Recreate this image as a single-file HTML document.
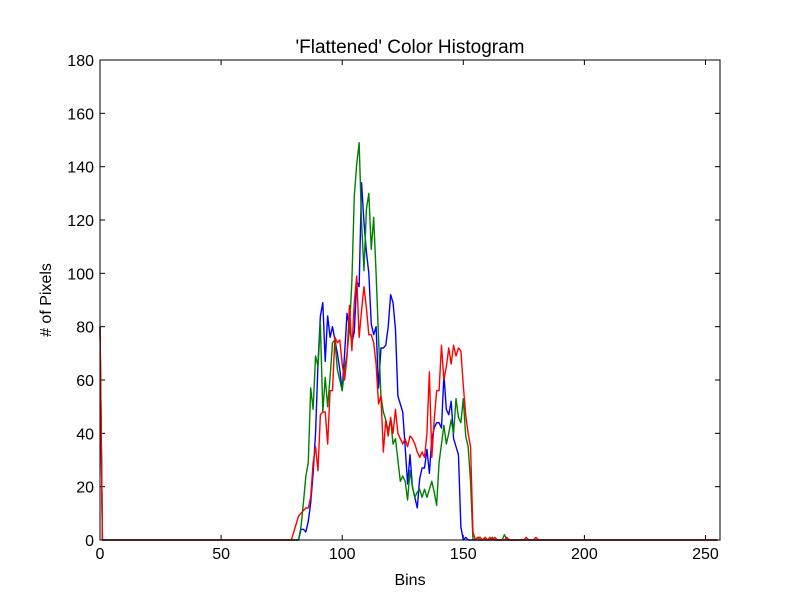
<!DOCTYPE html>
<html><head><meta charset="utf-8"><style>
body{margin:0;background:#fff;}
svg text{font-family:"Liberation Sans","DejaVu Sans",sans-serif;fill:#000;}
</style></head><body>
<svg id="chart" width="800" height="600" viewBox="0 0 800 600" xmlns="http://www.w3.org/2000/svg">
<rect width="800" height="600" fill="#fff"/>
<text x="410" y="53" font-size="19" text-anchor="middle">'Flattened' Color Histogram</text>
<text x="410" y="585" font-size="16" text-anchor="middle">Bins</text>
<text transform="translate(51,300) rotate(-90)" font-size="16" text-anchor="middle"># of Pixels</text>
<g id="ticks"></g>
<g id="series"></g>
<rect x="100" y="60" width="620" height="480" fill="none" stroke="#000" stroke-width="1"/>
</svg>
<script>
const xTicks=[0,50,100,150,200,250];
const yTicks=[0,20,40,60,80,100,120,140,160,180];
const segStart=78;
const spikeBin0=80;
const blueSeg=[0,0,0,0,0,4,4,3,7,14,25,40,66,84,89,67,84,76,80,75,70,64,56,70,85,80,74,78,97,95,134,119,108,100,81,77,80,57,72,72,73,80,92,89,79,54,51,48,35,21,32,20,16,12,23,27,27,34,25,38,42,44,44,42,62,49,47,52,38,35,32,5,0,1,0];
const greenSeg=[0,0,0,0,0,5,14,24,29,57,49,69,65,81,48,61,50,61,74,75,64,60,56,64,70,79,97,129,141,149,119,101,124,130,109,121,100,76,54,48,45,41,45,36,38,30,22,24,22,15,26,20,16,18,19,16,19,16,19,22,18,13,29,36,43,36,40,45,40,53,46,44,53,39,35,22,0,0,1,0,0,1,0,0,1,0,0,0,0,2,0];
const redSeg=[0,0,3,6,9,10,11,12,12,16,29,35,26,47,48,48,36,56,56,76,74,75,66,60,69,88,71,89,99,76,86,95,87,77,77,74,66,51,54,33,45,39,46,40,49,40,38,36,38,35,39,38,36,33,31,33,31,40,63,31,45,56,56,73,60,65,72,66,73,69,72,71,58,47,40,35,3,0,1,1,0,1,0,1,0,1,0,0,0,0,1,0,0,0,0,0,0,0,1,0,0,0,1,0,0,0];
const nBins=256;
const X0=100,X1=720,Y0=540,Y1=60;
const xs=v=>X0+(v/256)*(X1-X0);
const ys=v=>Y0-(v/180)*(Y0-Y1);
const NS="http://www.w3.org/2000/svg";
const tg=document.getElementById('ticks');
function mk(tag,attrs){const e=document.createElementNS(NS,tag);for(const k in attrs)e.setAttribute(k,attrs[k]);return e;}
xTicks.forEach(t=>{
  const x=xs(t);
  const l1=mk('line',{x1:x,x2:x,y1:Y0,y2:Y0-5,stroke:'#000','stroke-width':1});
  
  
  tg.appendChild(l1);
  const l2=mk('line',{x1:x,x2:x,y1:Y1,y2:Y1+5,stroke:'#000','stroke-width':1});
  
  
  tg.appendChild(l2);
  const tx=mk('text',{x:x,y:Y0+19,'font-size':16,'text-anchor':'middle'});
  
  
  tx.textContent=t;tg.appendChild(tx);
});
yTicks.forEach(t=>{
  const y=ys(t);
  const l1=mk('line',{x1:X0,x2:X0+5,y1:y,y2:y,stroke:'#000','stroke-width':1});
  
  
  tg.appendChild(l1);
  const l2=mk('line',{x1:X1,x2:X1-5,y1:y,y2:y,stroke:'#000','stroke-width':1});
  
  
  tg.appendChild(l2);
  const tx=mk('text',{x:X0-6,y:y+6,'font-size':16,'text-anchor':'end'});
  
  
  tx.textContent=t;tg.appendChild(tx);
});
function full(seg){
  const a=new Array(nBins).fill(0);
  a[0]=spikeBin0;
  seg.forEach((v,i)=>{if(segStart+i<nBins)a[segStart+i]=v;});
  return a;
}
const sg=document.getElementById('series');
[['blue',blueSeg,'#0000ff'],['green',greenSeg,'#008000'],['red',redSeg,'#ff0000']].forEach(([n,seg,c])=>{
  const a=full(seg);
  const d=a.map((v,i)=>(i?'L':'M')+xs(i).toFixed(2)+','+ys(v).toFixed(2)).join('');
  const p=mk('path',{d:d,fill:'none',stroke:c,'stroke-width':1.4,'stroke-linejoin':'round'});
  
  
  sg.appendChild(p);
});
</script>
</body></html>
